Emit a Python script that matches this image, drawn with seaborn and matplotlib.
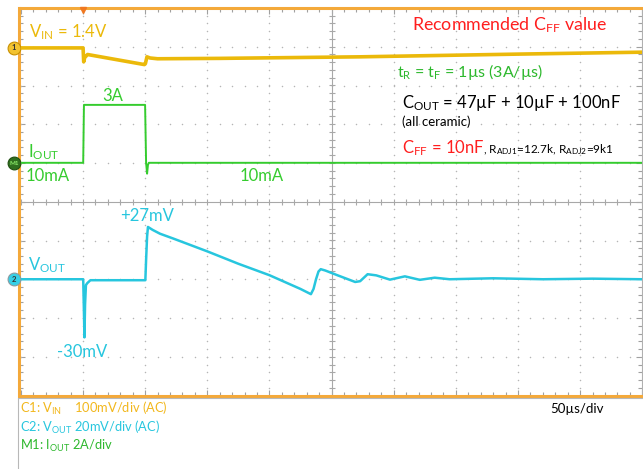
import numpy as np
import pandas as pd
import matplotlib.pyplot as plt
from matplotlib.lines import Line2D
import seaborn as sns

# time axis in microseconds (50 us/div, 10 divisions)
t_vin = [0, 50.1, 50.6, 51.4, 53.7, 99.4, 100.2, 101.5, 104, 110, 160, 273, 400, 500]
vin_mv = [0, 0, -36, -25, -17, -43, -41, -23, -26, -28, -27, -23, -16, -11]

t_iout = [0, 50.2, 50.8, 100.0, 100.8, 101.6, 102.3, 103, 500]
iout_a = [0.01, 0.01, 3.0, 3.0, 0.01, -0.55, -0.1, 0.01, 0.01]

t_vout = [0, 50.2, 50.7, 51.2, 51.7, 52.4, 53.5, 56, 100.2, 100.8, 101.6, 102.3, 106,
          112, 122.7, 150, 175, 200, 225, 233.4, 235.5, 237.5, 239.5, 241.3, 245, 255,
          269, 273, 279, 286, 297, 309, 321, 333, 345, 380, 420, 460, 500]
vout_mv = [0, 0, -14, -30, -13, -3, -2, -0.5, -0.5, 10, 22, 27, 25.5,
           23.5, 21, 14.4, 8, 2.1, -5, -7.7, -5, 0, 4, 5.2, 4.5, 2,
           -1.4, -1, 2.6, 2, -0.2, 1.5, -0.3, 0.8, 0, 0.5, 0, 0.3, 0]

# channel settings: (offset in div, units per div)
vin_offset, vin_scale = 3.97, 100
iout_offset, iout_scale = 1.0, 2
vout_offset, vout_scale = -2.0, 20

GOLD = '#EBB90A'
ORANGE = '#F4A93A'
GREEN = '#35CC2E'
CYAN = '#27C6DE'
RED = '#FF1E1E'
GRID = '#B5B5B5'

sns.set_style('white')
plt.rcParams['font.family'] = ['Lato', 'DejaVu Sans']
plt.rcParams['mathtext.fontset'] = 'custom'
plt.rcParams['mathtext.rm'] = 'Lato'
plt.rcParams['mathtext.it'] = 'Lato:italic'
plt.rcParams['mathtext.bf'] = 'Lato:bold'

W, H = 643, 469
fig = plt.figure(figsize=(W / 100, H / 100), dpi=100)
fig.patch.set_facecolor('white')

left, right, top, bottom = 20.8, 642.3, 8.0, 395.5
rect = [left / W, 1 - bottom / H, (right - left) / W, (bottom - top) / H]
ax = fig.add_axes(rect)
ax.set_xlim(0, 500)
ax.set_ylim(-5, 5)

# scope graticule: dotted grid, center cross with ticks, ticks on the frame
minor_x = np.arange(0, 500.01, 10)
minor_y = np.arange(-5, 5.01, 0.2)
for gx in range(50, 500, 50):
    if gx == 250:
        continue
    ax.scatter(np.full(len(minor_y), gx), minor_y, s=1.2, color=GRID, lw=0, zorder=1)
for gy in range(-4, 5):
    if gy == 0:
        continue
    ax.scatter(minor_x, np.full(len(minor_x), gy), s=1.2, color=GRID, lw=0, zorder=1)
ax.axhline(0, color='#A8A8A8', lw=0.8, zorder=1)
ax.axvline(250, color='#A8A8A8', lw=0.8, zorder=1)
ax.plot(minor_x, np.zeros(len(minor_x)), ls='none', marker='|', ms=5, mew=0.8, color='#A8A8A8', zorder=1)
ax.plot(np.full(len(minor_y), 250), minor_y, ls='none', marker='_', ms=5, mew=0.8, color='#A8A8A8', zorder=1)

ax.set_xticks(np.arange(0, 501, 50))
ax.set_xticks(minor_x, minor=True)
ax.set_yticks(np.arange(-5, 6, 1))
ax.set_yticks(minor_y, minor=True)
ax.tick_params(which='both', direction='in', top=True, right=True, bottom=True, left=True,
               labelbottom=False, labelleft=False, color='#A0A0A0', width=0.8)
ax.tick_params(which='major', length=4.5)
ax.tick_params(which='minor', length=3)
for side in ['left', 'top', 'bottom']:
    ax.spines[side].set_color(ORANGE)
    ax.spines[side].set_linewidth(2.2)
ax.spines['left'].set_position(('outward', 1.5))
ax.spines['right'].set_color('#B0B0B0')
ax.spines['right'].set_linewidth(0.8)

# one overlaid axis per channel, each with its own vertical scale
def channel_axis(offset, scale):
    cax = fig.add_axes(rect, sharex=ax)
    cax.set_ylim((-5 - offset) * scale, (5 - offset) * scale)
    cax.axis('off')
    cax.patch.set_alpha(0)
    return cax

ax_vin = channel_axis(vin_offset, vin_scale)
ax_iout = channel_axis(iout_offset, iout_scale)
ax_vout = channel_axis(vout_offset, vout_scale)

df_vin = pd.DataFrame({'t': t_vin, 'v': vin_mv})
df_iout = pd.DataFrame({'t': t_iout, 'v': iout_a})
df_vout = pd.DataFrame({'t': t_vout, 'v': vout_mv})

sns.lineplot(data=df_vin, x='t', y='v', ax=ax_vin, color=GOLD, lw=2.6,
             estimator=None, sort=False, legend=False)
sns.lineplot(data=df_iout, x='t', y='v', ax=ax_iout, color=GREEN, lw=1.4,
             estimator=None, sort=False, legend=False)
sns.lineplot(data=df_vout, x='t', y='v', ax=ax_vout, color=CYAN, lw=1.8,
             estimator=None, sort=False, legend=False)
ax_vin.set_xlim(0, 500)

# channel markers on the left edge and trigger marker on top
ytr = ax.get_yaxis_transform()
mx = (14 - left) / (right - left)
ax.scatter([mx], [vin_offset], s=85, color='#F2C230', edgecolor='#C89000', lw=0.8,
           transform=ytr, clip_on=False, zorder=6)
ax.text(mx, vin_offset, '1', transform=ytr, ha='center', va='center', fontsize=5.5,
        fontweight='bold', color='#333333', zorder=7)
ax.scatter([mx], [iout_offset], s=85, color='#2F6F1F', edgecolor='#1F4F10', lw=0.8,
           transform=ytr, clip_on=False, zorder=6)
ax.text(mx, iout_offset, 'M1', transform=ytr, ha='center', va='center', fontsize=4.5,
        fontweight='bold', color='#8CEB6A', zorder=7)
ax.scatter([mx], [vout_offset], s=85, color='#35D0E6', edgecolor='#8A9AA0', lw=0.8,
           transform=ytr, clip_on=False, zorder=6)
ax.text(mx, vout_offset, '2', transform=ytr, ha='center', va='center', fontsize=5.5,
        fontweight='bold', color='#333333', zorder=7)
ax.plot([50], [1 - 2.5 / (bottom - top)], marker='v', ms=5, color='#F07820',
        transform=ax.get_xaxis_transform(), clip_on=False, zorder=6)


def ftext(x, y, s, **kw):
    fig.text(x / W, 1 - y / H, s, va='baseline', **kw)


# annotations on the screen
ftext(29, 37, r'V$_{\mathrm{IN}}$ = 1.4V', color=GOLD, fontsize=12)
ftext(102, 101, '3A', color=GREEN, fontsize=12)
ftext(28, 157, r'I$_{\mathrm{OUT}}$', color=GREEN, fontsize=12)
ftext(26, 181, '10mA', color=GREEN, fontsize=12)
ftext(240, 181, '10mA', color=GREEN, fontsize=12)
ftext(28, 270, r'V$_{\mathrm{OUT}}$', color=CYAN, fontsize=12)
ftext(120, 221, '+27mV', color=CYAN, fontsize=12)
ftext(57, 357, '-30mV', color=CYAN, fontsize=12)

ftext(412, 30, r'Recommended C$_{\mathrm{FF}}$ value', color=RED, fontsize=12.8)
ftext(397, 77, r't$_{\mathrm{R}}$ = t$_{\mathrm{F}}$ = 1µs (3A/µs)', color='#2DB82D', fontsize=11.5)
ftext(402, 108, r'C$_{\mathrm{OUT}}$ = 47µF + 10µF + 100nF', color='black', fontsize=12)
ftext(402, 126, '(all ceramic)', color='black', fontsize=9.5)
ftext(402, 153, r'C$_{\mathrm{FF}}$ = 10nF', color=RED, fontsize=12)
ftext(483, 153, r', R$_{\mathrm{ADJ1}}$=12.7k, R$_{\mathrm{ADJ2}}$=9k1', color='black', fontsize=8.5)

# settings panel below the screen
fig.add_artist(Line2D([18 / W, 1], [1 - 398 / H] * 2, color='#B8B8B8', lw=0.8))
fig.add_artist(Line2D([18 / W] * 2, [1 - 398 / H, 0], color='#B8B8B8', lw=0.8))
ftext(20, 413, r'C1: V$_{\mathrm{IN}}$    100mV/div (AC)', color='#F2B71C', fontsize=9.3)
ftext(20, 432, r'C2: V$_{\mathrm{OUT}}$ 20mV/div (AC)', color=CYAN, fontsize=9.3)
ftext(20, 450, r'M1: I$_{\mathrm{OUT}}$ 2A/div', color='#2DB82D', fontsize=9.3)
ftext(550, 413, '50µs/div', color='black', fontsize=9.5)

fig.savefig('out.png', dpi=100)
